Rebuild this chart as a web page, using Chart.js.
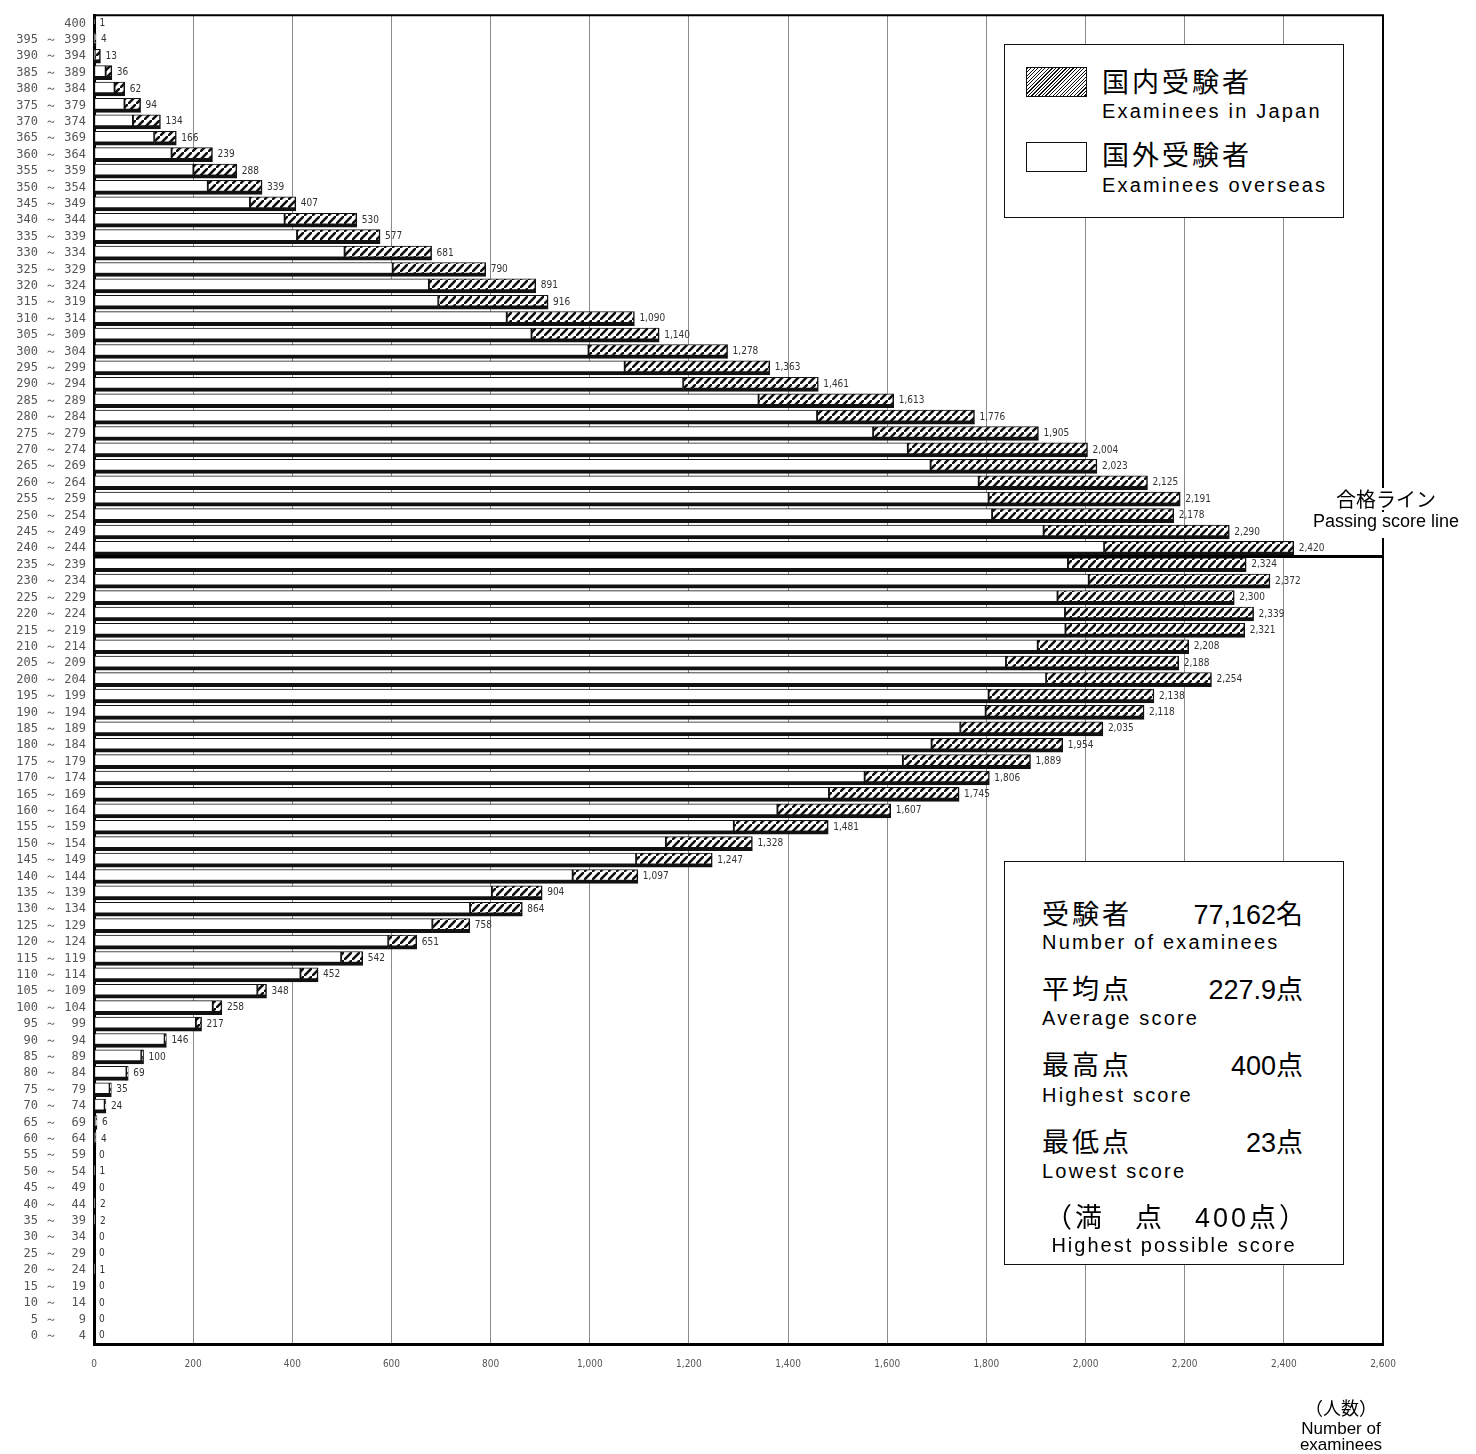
<!DOCTYPE html>
<html><head><meta charset="utf-8">
<script src="https://cdn.jsdelivr.net/npm/chart.js@4.4.1/dist/chart.umd.min.js"></script>
<style>
html,body{margin:0;padding:0;background:#fff;}
#wrap{position:relative;width:1476px;height:1454px;overflow:hidden;background:#fff;}
#cw{position:absolute;left:0;top:0;width:1476px;height:1454px;}
.box{position:absolute;border:1.5px solid #111;background:#fff;box-sizing:border-box;}
.sw{position:absolute;border:1px solid #111;background:#fff;box-sizing:border-box;}
.hatch{background:repeating-linear-gradient(135deg,#111 0px,#111 0.9px,#fff 0.9px,#fff 2.5px);}
.t{position:absolute;white-space:nowrap;color:#000;font-family:"Liberation Sans","Noto Sans CJK JP",sans-serif;line-height:1;}
.jp{font-size:27px;letter-spacing:3px;}
.en{font-size:20px;letter-spacing:2.2px;}
.val{font-size:27px;text-align:right;width:160px;left:1143px;}
</style></head><body>
<div id="wrap">
  <div id="cw"><canvas id="c"></canvas></div>

  <!-- legend -->
  <div class="box" style="left:1004px;top:44px;width:340px;height:174px"></div>
  <div class="sw hatch" style="left:1026px;top:67px;width:61px;height:30px"></div>
  <div class="t jp" style="left:1102px;top:70px">国内受験者</div>
  <div class="t en" style="left:1102px;top:101px">Examinees in Japan</div>
  <div class="sw" style="left:1026px;top:142px;width:61px;height:30px"></div>
  <div class="t jp" style="left:1102px;top:143px">国外受験者</div>
  <div class="t en" style="left:1102px;top:175px">Examinees overseas</div>

  <!-- statistics box -->
  <div class="box" style="left:1004px;top:861px;width:340px;height:404px"></div>
  <div class="t jp" style="left:1042px;top:902px">受験者</div>
  <div class="t val" style="top:902px">77,162名</div>
  <div class="t en" style="left:1042px;top:932px">Number of examinees</div>
  <div class="t jp" style="left:1042px;top:977px">平均点</div>
  <div class="t val" style="top:977px">227.9点</div>
  <div class="t en" style="left:1042px;top:1008px">Average score</div>
  <div class="t jp" style="left:1042px;top:1053px">最高点</div>
  <div class="t val" style="top:1053px">400点</div>
  <div class="t en" style="left:1042px;top:1085px">Highest score</div>
  <div class="t jp" style="left:1042px;top:1130px">最低点</div>
  <div class="t val" style="top:1130px">23点</div>
  <div class="t en" style="left:1042px;top:1161px">Lowest score</div>
  <div class="t" style="left:1007px;width:340px;text-align:center;top:1205px;font-size:27px;letter-spacing:3px">（満　点　400点）</div>
  <div class="t en" style="left:1004px;width:340px;text-align:center;top:1235px;letter-spacing:2px">Highest possible score</div>

  <!-- passing line label -->
  <div class="t" style="left:1296px;width:180px;text-align:center;top:488px;font-size:20px;background:#fff;padding-top:2px">合格ライン</div>
  <div class="t" style="left:1296px;width:180px;text-align:center;top:512px;font-size:18px;background:#fff;padding-bottom:8px">Passing score line</div>

  <!-- axis unit -->
  <div class="t" style="left:1281px;width:120px;text-align:center;top:1400px;font-size:18px">（人数）</div>
  <div class="t" style="left:1281px;width:120px;text-align:center;top:1420px;font-size:17px">Number of</div>
  <div class="t" style="left:1281px;width:120px;text-align:center;top:1436px;font-size:17px">examinees</div>
</div>

<script>
// ---- data ----
const categories = ["400","395～399","390～394","385～389","380～384","375～379","370～374","365～369","360～364","355～359",
  "350～354","345～349","340～344","335～339","330～334","325～329","320～324","315～319","310～314","305～309",
  "300～304","295～299","290～294","285～289","280～284","275～279","270～274","265～269","260～264","255～259",
  "250～254","245～249","240～244","235～239","230～234","225～229","220～224","215～219","210～214","205～209",
  "200～204","195～199","190～194","185～189","180～184","175～179","170～174","165～169","160～164","155～159",
  "150～154","145～149","140～144","135～139","130～134","125～129","120～124","115～119","110～114","105～109",
  "100～104","95～99","90～94","85～89","80～84","75～79","70～74","65～69","60～64","55～59",
  "50～54","45～49","40～44","35～39","30～34","25～29","20～24","15～19","10～14","5～9","0～4"];

// 国外受験者 (Examinees overseas)
const overseas = [0,1,2,24,42,62,79,122,157,201,
  230,315,385,410,506,603,676,695,833,883,
  998,1071,1189,1341,1459,1572,1642,1688,1785,1805,
  1812,1916,2038,1965,2007,1944,1959,1960,1904,1840,
  1921,1805,1799,1748,1690,1632,1555,1483,1379,1291,
  1154,1094,966,803,759,683,594,499,417,330,
  240,206,143,96,66,32,22,4,3,0,
  1,0,2,2,0,0,1,0,0,0,0];

// 国内受験者 (Examinees in Japan)
const domestic = [1,3,11,12,20,32,55,44,82,87,
  109,92,145,167,175,187,215,221,257,257,
  280,292,272,272,317,333,362,335,340,386,
  366,374,382,359,365,356,380,361,304,348,
  333,333,319,287,264,257,251,262,228,190,
  174,153,131,101,105,75,57,43,35,18,
  18,11,3,4,3,3,2,2,1,0,
  0,0,0,0,0,0,0,0,0,0,0];

const xMin = 0, xMax = 2600, xStep = 200;
const passingAfter = "240～244";   // passing line drawn below this row

// ---- chart ----
const canvas = document.getElementById('c');
const ctx0 = canvas.getContext('2d');
function makeHatch(){
  const s = 8;
  const t = document.createElement('canvas'); t.width = s; t.height = s;
  const g = t.getContext('2d');
  g.fillStyle = '#fff'; g.fillRect(0,0,s,s);
  g.strokeStyle = '#111'; g.lineWidth = 2.6; g.lineCap = 'square';
  g.beginPath();
  g.moveTo(-s,s*2); g.lineTo(s*2,-s);
  g.moveTo(-s*2,s); g.lineTo(s,-s*2);
  g.moveTo(0,s*3); g.lineTo(s*3,0);
  g.stroke();
  return ctx0.createPattern(t,'repeat');
}
const hatch = makeHatch();

const barBorder = {top:1, right:1.5, bottom:4, left:1};

const overlay = {
  id:'overlay',
  afterDatasetsDraw(chart){
    const {ctx, chartArea:a, scales:{x,y}} = chart;
    ctx.save();
    // value labels
    ctx.font = '10px "DejaVu Sans Condensed","Liberation Sans",sans-serif';
    ctx.fillStyle = '#333';
    ctx.textAlign = 'left';
    ctx.textBaseline = 'middle';
    categories.forEach((c,i)=>{
      const tot = overseas[i] + domestic[i];
      ctx.fillText(tot.toLocaleString('en-US'), x.getPixelForValue(tot) + 5, y.getPixelForValue(i));
    });
    // passing score line
    const pi = categories.indexOf(passingAfter);
    const yl = (y.getPixelForValue(pi) + y.getPixelForValue(pi+1)) / 2;
    ctx.strokeStyle = '#000'; ctx.lineWidth = 3;
    ctx.beginPath(); ctx.moveTo(a.left, yl); ctx.lineTo(a.right, yl); ctx.stroke();
    // frame (top / right)
    ctx.lineWidth = 2;
    ctx.beginPath();
    ctx.moveTo(a.left, a.top); ctx.lineTo(a.right, a.top); ctx.lineTo(a.right, a.bottom);
    ctx.stroke();
    ctx.restore();
  }
};

new Chart(canvas, {
  type:'bar',
  data:{
    labels: categories,
    datasets:[
      {label:'国外受験者 Examinees overseas', data: overseas, backgroundColor:'#fff', borderColor:'#111',
       borderWidth: barBorder, borderSkipped:false, barThickness:14},
      {label:'国内受験者 Examinees in Japan', data: domestic, backgroundColor: hatch, borderColor:'#111',
       borderWidth: barBorder, borderSkipped:false, barThickness:14}
    ]
  },
  options:{
    indexAxis:'y',
    responsive:true,
    maintainAspectRatio:false,
    animation:false,
    events:[],
    layout:{padding:{top:6, right:93, bottom:0, left:0}},
    plugins:{legend:{display:false}, tooltip:{enabled:false}},
    scales:{
      x:{
        stacked:true, min:xMin, max:xMax,
        afterFit(s){ s.height = 110; },
        grid:{color:'#8a8a8a', lineWidth:1, drawTicks:false},
        border:{display:true, color:'#000', width:3},
        ticks:{stepSize:xStep, padding:14, autoSkip:false, maxRotation:0, color:'#555',
          font:{family:'"DejaVu Sans Condensed","Liberation Sans",sans-serif', size:10},
          callback:v=>Number(v).toLocaleString('en-US')}
      },
      y:{
        stacked:true,
        afterFit(s){ s.width = 94; },
        grid:{display:false, drawTicks:false},
        border:{display:true, color:'#000', width:3},
        ticks:{autoSkip:false, padding:8, color:'#555',
          font:{family:'"DejaVu Sans Mono",monospace', size:12},
          callback:function(v,i){
            const p = categories[i].split('～');
            if(p.length < 2) return p[0];
            return p[0].padStart(3,' ') + ' ～ ' + p[1].padStart(3,' ');
          }}
      }
    }
  },
  plugins:[overlay]
});
</script>
</body></html>
